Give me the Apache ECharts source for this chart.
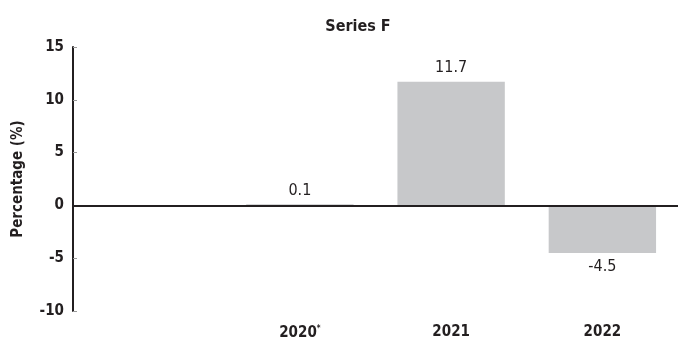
<!DOCTYPE html>
<html>
<head>
<meta charset="utf-8">
<script src="https://cdn.jsdelivr.net/npm/echarts@6/dist/echarts.min.js"></script>
<style>
  html, body { margin: 0; padding: 0; background: #fff; }
  #chart { width: 681px; height: 341px; }
</style>
</head>
<body>
<div id="chart"></div>
<script>
const categories = ["", "2020*", "2021", "2022"];
const values = [null, 0.1, 11.7, -4.5];
const yTicks = { min: -10, max: 15, interval: 5 };

const FONT = "'Liberation Sans Narrow', 'DejaVu Sans Condensed', sans-serif";
const INK = "#231f20";

const chart = echarts.init(document.getElementById("chart"));

const option = {
  animation: false,
  title: {
    text: "Series F",
    left: 353,
    top: 14,
    textAlign: "center",
    textStyle: { fontFamily: FONT, fontSize: 16, fontWeight: "bold", color: INK }
  },
  grid: { left: 73, right: 3, top: 47, bottom: 30 },
  xAxis: {
    type: "category",
    data: categories,
    axisLine: { show: false, onZero: false },
    axisTick: { show: false },
    axisLabel: {
      margin: 14,
      fontFamily: FONT,
      fontSize: 15,
      fontWeight: "bold",
      color: INK,
      formatter: (v) => v.endsWith("*") ? v.slice(0, -1) + "{sup|*}" : v,
      rich: {
        sup: { fontFamily: FONT, fontSize: 8, fontWeight: "bold", color: INK, verticalAlign: "top", padding: [0, 0, 8, 0] }
      }
    }
  },
  yAxis: {
    type: "value",
    min: yTicks.min,
    max: yTicks.max,
    interval: yTicks.interval,
    name: "Percentage (%)",
    nameLocation: "middle",
    nameGap: 47,
    nameTextStyle: { fontFamily: FONT, fontSize: 15, fontWeight: "bold", color: INK },
    axisLine: { show: true, lineStyle: { color: INK, width: 2 } },
    axisTick: { show: true, inside: true, length: 4, lineStyle: { color: "#999", width: 1 } },
    splitLine: { show: false },
    axisLabel: { margin: 9, fontFamily: FONT, fontSize: 15, fontWeight: "bold", color: INK }
  },
  series: [{
    type: "bar",
    barWidth: "71%",
    itemStyle: { color: "#c7c8ca" },
    label: {
      show: true,
      fontFamily: FONT,
      fontSize: 16,
      color: INK,
      distance: 6,
      position: "top",
      formatter: (p) => p.value.toFixed(1)
    },
    markLine: {
      silent: true,
      symbol: "none",
      label: { show: false },
      lineStyle: { color: INK, width: 2, type: "solid" },
      data: [{ yAxis: 0 }]
    },
    // negative bars get their label underneath
    data: values.map((v) =>
      v !== null && v < 0 ? { value: v, label: { position: "bottom" } } : v
    )
  }]
};

chart.setOption(option);
window.onresize = function () {
  chart.resize();
};
</script>
</body>
</html>
